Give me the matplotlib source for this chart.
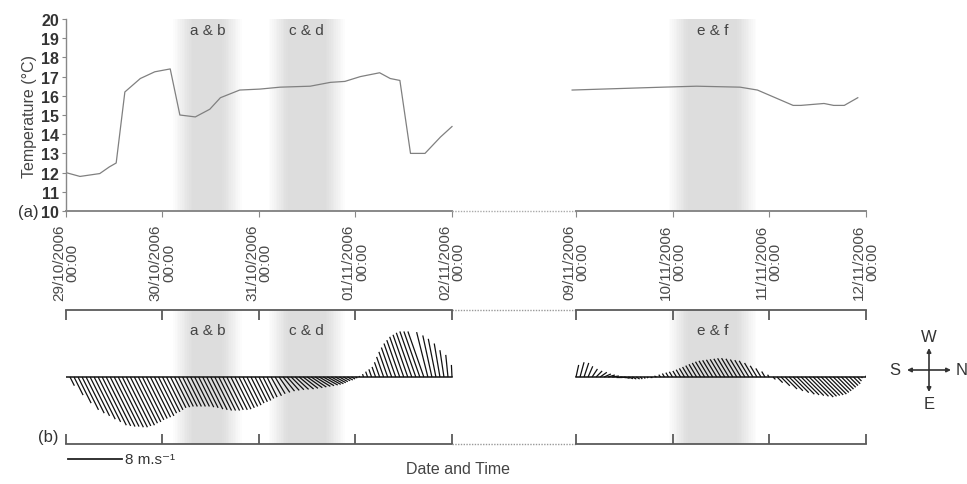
import numpy as np
import matplotlib
matplotlib.use('Agg')
import matplotlib.pyplot as plt
from matplotlib.collections import LineCollection

plt.rcParams['font.family'] = ['Liberation Sans', 'DejaVu Sans']

# temperature, first deployment (days after 29/10/2006 00:00)
t1_days = [0, 0.145, 0.35, 0.45, 0.52, 0.61, 0.77, 0.92, 1.08, 1.18, 1.34, 1.49, 1.6, 1.80,
           2.01, 2.22, 2.53, 2.74, 2.89, 3.05, 3.25, 3.36, 3.46, 3.57, 3.72, 3.88, 4.0]
t1_temp = [12.0, 11.8, 11.95, 12.3, 12.5, 16.2, 16.9, 17.25, 17.4, 15.0, 14.9, 15.3, 15.9, 16.3,
           16.35, 16.45, 16.5, 16.7, 16.75, 17.0, 17.2, 16.9, 16.8, 13.0, 13.0, 13.85, 14.4]

# temperature, second deployment (days after 09/11/2006 00:00)
t2_days = [-0.04, 0.90, 1.25, 1.70, 1.88, 2.25, 2.33, 2.57, 2.67, 2.78, 2.92]
t2_temp = [16.3, 16.45, 16.5, 16.45, 16.3, 15.5, 15.5, 15.6, 15.5, 15.5, 15.9]

dates1 = ['29/10/2006', '30/10/2006', '31/10/2006', '01/11/2006', '02/11/2006']
dates2 = ['09/11/2006', '10/11/2006', '11/11/2006', '12/11/2006']

# hourly wind components in m/s (north positive, west positive)
wind1_north = [0, 0.65, 1.35, 1.95, 2.45, 2.7, 2.9, 3.15, 3.35, 3.6,
               3.65, 3.7, 3.7, 3.75, 3.75, 3.65, 3.6, 3.45, 3.35, 3.2,
               3.1, 3.0, 2.9, 2.7, 2.6, 2.45, 2.3, 2.25, 2.2, 2.2,
               2.2, 2.2, 2.2, 2.25, 2.3, 2.4, 2.45, 2.5, 2.5, 2.5,
               2.45, 2.45, 2.4, 2.3, 2.2, 2.1, 1.95, 1.85, 1.75, 1.6,
               1.5, 1.55, 1.5, 1.6, 1.7, 1.8, 1.9, 2.0, 2.15, 2.2,
               2.25, 2.25, 2.25, 2.2, 2.15, 2.0, 1.8, 1.55, 1.25, 1.0,
               0.8, 0.55, 0.27,
               -0.05, -0.15, -0.28, -0.4, -0.53, -0.77, -1.05, -1.31, -1.54, -1.75,
               -1.93, -2.1, -2.2, -2.31, -2.38, -2.38, -2.38, -1.68, -1.36, -1.14,
               -0.85, -0.6, -0.33, -0.09]
wind1_west = [0, -1.3, -2.7, -3.9, -4.9, -5.4, -5.8, -6.3, -6.7, -7.2,
              -7.3, -7.4, -7.4, -7.5, -7.5, -7.3, -7.2, -6.9, -6.7, -6.4,
              -6.2, -6.0, -5.8, -5.4, -5.2, -4.9, -4.6, -4.5, -4.4, -4.4,
              -4.4, -4.4, -4.4, -4.5, -4.6, -4.8, -4.9, -5.0, -5.0, -5.0,
              -4.9, -4.9, -4.8, -4.6, -4.4, -4.2, -3.9, -3.7, -3.5, -3.2,
              -3.0, -2.8, -2.5, -2.3, -2.1, -2.0, -1.9, -1.85, -1.8, -1.7,
              -1.6, -1.5, -1.4, -1.3, -1.2, -1.1, -1.0, -0.85, -0.7, -0.55,
              -0.45, -0.3, -0.15,
              0.15, 0.43, 0.8, 1.15, 1.5, 2.2, 3.0, 3.75, 4.4, 5.0,
              5.5, 6.0, 6.3, 6.6, 6.8, 6.8, 6.8, 6.7, 6.2, 5.7,
              5.0, 4.0, 3.3, 1.8]

wind2_north = [0.4, 0.6, 0.7, 0.7, 0.8, 0.9, 1.0, 1.0, 1.0, 1.0,
               0.9, 0.9, 0.8, 0.7, 0.6, 0.5, 0.3, 0.1, -0.2, -0.4,
               -0.3, -0.25, -0.31, -0.39, -0.47, -0.54, -0.65, -0.77, -0.9, -1.02,
               -1.14, -1.25, -1.37, -1.45, -1.5, -1.54, -1.58, -1.63, -1.67, -1.68,
               -1.63, -1.57, -1.5, -1.45, -1.25, -1.0, -0.77, -0.49, -0.21, 0.36,
               0.84, 1.31, 1.79, 2.06, 2.33, 2.57, 2.67, 2.78, 2.88, 2.99,
               2.88, 2.76, 2.67, 2.55, 2.31, 2.06, 1.81, 1.54, 1.28, 1.01,
               0.6, 0.15, 0.6]
wind2_west = [1.8, 2.2, 2.1, 1.6, 1.2, 0.9, 0.7, 0.45, 0.3, 0.15,
              0, -0.1, -0.2, -0.25, -0.3, -0.3, -0.3, -0.25, -0.15, 0,
              0.15, 0.35, 0.52, 0.65, 0.78, 0.9, 1.09, 1.28, 1.49, 1.7,
              1.9, 2.09, 2.28, 2.42, 2.49, 2.57, 2.64, 2.72, 2.79, 2.81,
              2.72, 2.61, 2.51, 2.42, 2.09, 1.67, 1.28, 0.82, 0.34, -0.36,
              -0.84, -1.31, -1.79, -2.06, -2.33, -2.57, -2.67, -2.78, -2.88, -2.99,
              -2.88, -2.76, -2.67, -2.55, -2.31, -2.06, -1.81, -1.54, -1.28, -1.01,
              -0.6, -0.15, 0.9]

# sampling events: label, deployment, start/end (days into deployment)
events = [('a & b', 1, 1.23, 1.70), ('c & d', 1, 2.22, 2.77), ('e & f', 2, 1.08, 1.75)]

scale_speed = 8  # m/s, reference bar

# the second deployment is drawn after a short break in the time axis
OFFSET2 = 5.285
XMAX = OFFSET2 + 3

line_col = '#5a5a5a'
text_col = '#333333'

fig = plt.figure(figsize=(9.67, 4.85), dpi=100)
W, H = 967, 485
ax_a = fig.add_axes([66 / W, 1 - 212 / H, (865.5 - 66) / W, 192 / H])
ax_b = fig.add_axes([66 / W, 1 - 445 / H, (865.5 - 66) / W, 134 / H])


def xpos(dep, d):
    return np.asarray(d, dtype=float) + (0 if dep == 1 else OFFSET2)


def soft_band(ax, x0, x1, layers=12):
    # stacked translucent spans give the band a blurred edge
    for i in range(layers):
        f = i / (layers - 1)
        pad = 0.12 - 0.2 * f
        ax.axvspan(x0 - pad, x1 + pad, color='#8c8c8c', alpha=0.022, lw=0, zorder=0)


for ax in (ax_a, ax_b):
    ax.set_xlim(0, XMAX)
    for name, dep, s, e in events:
        soft_band(ax, xpos(dep, s), xpos(dep, e))

# ---- (a) temperature ----
ax_a.set_ylim(10, 20)
ax_a.plot(xpos(1, t1_days), t1_temp, color='#808080', lw=0.9)
ax_a.plot(xpos(2, t2_days), t2_temp, color='#808080', lw=0.9)

for sp in ('top', 'right', 'bottom'):
    ax_a.spines[sp].set_visible(False)
ax_a.spines['left'].set_color('#888888')
ax_a.spines['left'].set_linewidth(1.0)
ax_a.set_yticks(range(10, 21))
ax_a.set_yticklabels([str(v) for v in range(10, 21)], fontweight='bold', fontsize=11.5,
                     color=text_col)
ax_a.tick_params(axis='y', length=3, color='#888888', pad=2)
ax_a.set_ylabel('Temperature (°C)', fontsize=11.5, color='#444444', labelpad=3)

ticks = list(xpos(1, range(len(dates1)))) + list(xpos(2, range(len(dates2))))
labels = [d + '\n00:00' for d in dates1 + dates2]
ax_a.set_xticks(ticks)
ax_a.set_xticklabels(labels, rotation=90, fontsize=11, color='#4a4a4a',
                     multialignment='center', linespacing=0.95)
ax_a.tick_params(axis='x', length=4, color='#888888', pad=5)

ax_a.plot([0, 4], [10, 10], color='#888888', lw=1.4, clip_on=False)
ax_a.plot([4, OFFSET2], [10, 10], color='#aaaaaa', lw=1.0, ls=(0, (1, 1)), clip_on=False)
ax_a.plot([OFFSET2, XMAX], [10, 10], color='#888888', lw=1.4, clip_on=False)

for name, dep, s, e in events:
    ax_a.text(xpos(dep, (s + e) / 2), 19.45, name, ha='center', va='center',
              fontsize=11, color='#444444')

fig.text(28 / W, 1 - 212 / H, '(a)', ha='center', va='center', fontsize=12, color=text_col)

# ---- (b) wind sticks ----
ax_b.set_ylim(-10, 10)
ax_b.axis('off')
fig.canvas.draw()
bb = ax_b.get_window_extent()
days_per_ms = (bb.height / 20) / (bb.width / XMAX)


def sticks(dep, north, west):
    x0 = xpos(dep, np.arange(len(north)) / 24)
    u = np.asarray(north) * days_per_ms
    v = np.asarray(west)
    segs = [[(x, 0), (x + du, dv)] for x, du, dv in zip(x0, u, v)]
    ax_b.add_collection(LineCollection(segs, colors='#111111', linewidths=0.9))
    ax_b.plot([x0[0], x0[-1]], [0, 0], color='#111111', lw=1.1)


sticks(1, wind1_north, wind1_west)
sticks(2, wind2_north, wind2_west)

tick_len = 10 / (bb.height / 20)
for y, sgn in ((10, -1), (-10, 1)):
    ax_b.plot([0, 4], [y, y], color=line_col, lw=1.3, clip_on=False)
    ax_b.plot([4, OFFSET2], [y, y], color='#999999', lw=1.0, ls=(0, (1, 1)), clip_on=False)
    ax_b.plot([OFFSET2, XMAX], [y, y], color=line_col, lw=1.3, clip_on=False)
    ax_b.vlines(ticks, y, y + sgn * tick_len, color=line_col, lw=1.3, clip_on=False)

for name, dep, s, e in events:
    ax_b.text(xpos(dep, (s + e) / 2), 7.0, name, ha='center', va='center',
              fontsize=11, color='#444444')

# speed scale bar
bar_y = -12.3
ax_b.plot([0.02, 0.02 + scale_speed * days_per_ms], [bar_y, bar_y], color='#222222', lw=1.3,
          clip_on=False)
ax_b.text(0.06 + scale_speed * days_per_ms, bar_y, '%d m.s⁻¹' % scale_speed, ha='left',
          va='center', fontsize=11, color=text_col)

fig.text(48 / W, 1 - 438 / H, '(b)', ha='center', va='center', fontsize=12, color=text_col)
fig.text(458 / W, 1 - 470 / H, 'Date and Time', ha='center', va='center', fontsize=11.5,
         color='#444444')

# compass
ax_c = fig.add_axes([884 / W, 1 - 416 / H, 90 / W, 90 / H])
ax_c.set_xlim(-45, 45)
ax_c.set_ylim(-45, 45)
ax_c.axis('off')
for dx, dy in ((22, 0), (-22, 0), (0, 22), (0, -22)):
    ax_c.annotate('', xy=(dx, dy), xytext=(0, 0),
                  arrowprops=dict(arrowstyle='-|>', color='#333333', lw=1.2,
                                  mutation_scale=6, shrinkA=0, shrinkB=0))
for lab, x, y in (('N', 33, 0), ('S', -34, 0), ('W', 0, 33), ('E', 0, -34)):
    ax_c.text(x, y, lab, ha='center', va='center', fontsize=12, color=text_col)

fig.savefig('out.png', dpi=100)
